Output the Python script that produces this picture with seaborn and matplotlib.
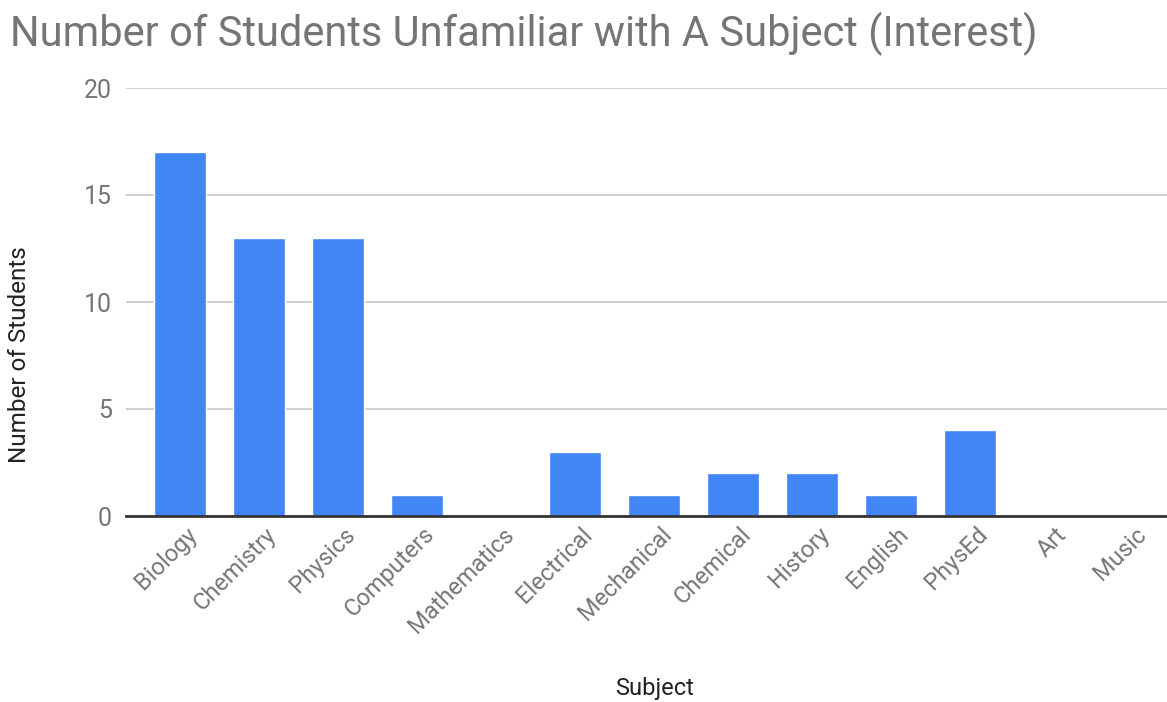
import matplotlib
matplotlib.use("Agg")
import matplotlib.pyplot as plt
import seaborn as sns
import pandas as pd

subjects = ["Biology", "Chemistry", "Physics", "Computers", "Mathematics", "Electrical",
            "Mechanical", "Chemical", "History", "English", "PhysEd", "Art", "Music"]
students = [17, 13, 13, 1, 0, 3, 1, 2, 2, 1, 4, 0, 0]
y_ticks = [0, 5, 10, 15, 20]

sns.set_theme(style="white")
plt.rcParams['font.family'] = ['Roboto', 'DejaVu Sans']

df = pd.DataFrame({"Subject": subjects, "Students": students})

W, H = 1167, 702
fig = plt.figure(figsize=(W / 100, H / 100), dpi=100)
ax = fig.add_axes([126 / W, (H - 516) / H, (1167 - 126) / W, (516 - 88) / H])

grey = "#757575"
sns.barplot(data=df, x="Subject", y="Students", color="#4285F4", saturation=1,
            width=52 / 79, ax=ax, zorder=3)

ax.set_xlim(-0.68, 12.49)
ax.set_ylim(0, 20)
ax.set_yticks(y_ticks)
ax.yaxis.grid(True, color="#cccccc", linewidth=1.3, zorder=0)
ax.set_axisbelow(True)
for s in ["top", "right", "left"]:
    ax.spines[s].set_visible(False)
ax.spines["bottom"].set_color("#333333")
ax.spines["bottom"].set_linewidth(2)
ax.spines["bottom"].set_zorder(4)

ax.tick_params(axis="y", length=0, pad=10, labelsize=18, labelcolor=grey)
ax.tick_params(axis="x", length=0, pad=5, labelsize=17, labelcolor=grey)
for lab in ax.get_xticklabels():
    lab.set_rotation(45)
    lab.set_ha("right")
    lab.set_rotation_mode("anchor")
    lab.set_transform(lab.get_transform() + matplotlib.transforms.ScaledTranslation(6 / 100, 0, fig.dpi_scale_trans))

ax.set_xlabel("")
ax.set_ylabel("")
fig.text(655 / W, 1 - 688 / H, "Subject", fontsize=17, color="#222222", ha="center", va="center")
fig.text(20 / W, 1 - 355 / H, "Number of Students", fontsize=17.5, color="#222222",
         ha="center", va="center", rotation=90)

fig.text(10 / W, 1 - 46 / H, "Number of Students Unfamiliar with A Subject (Interest)",
         fontsize=30, color=grey, ha="left", va="baseline")

fig.savefig("out.png", dpi=100, facecolor="white")
